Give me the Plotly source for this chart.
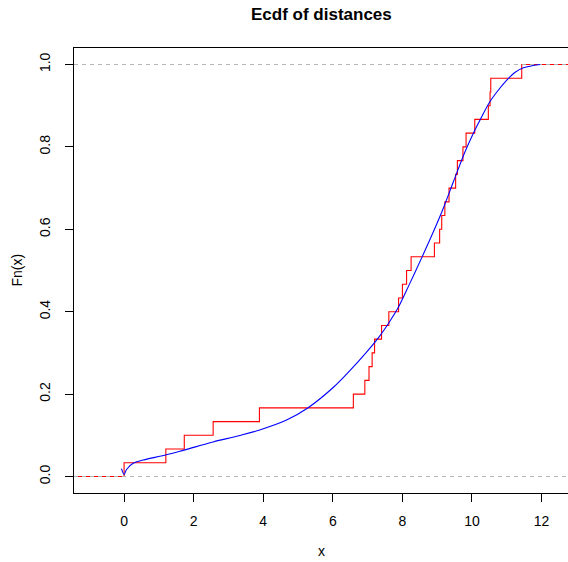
import plotly.graph_objects as go

# ECDF jump locations (30 observations)
jumps = [0.00, 1.20, 1.73, 2.56, 3.89, 6.59, 6.92, 7.04, 7.13, 7.20,
         7.40, 7.61, 7.89, 8.00, 8.12, 8.25, 8.92, 9.07, 9.13, 9.22,
         9.34, 9.53, 9.58, 9.74, 9.83, 10.08, 10.47, 10.52, 10.54, 11.43]

# fitted CDF curve
curve_x = [-0.075, 0.0, 0.07, 0.26, 0.55, 1.19, 1.72, 2.56, 3.30, 3.90,
           4.67, 5.29, 6.01, 6.49, 6.97, 7.33, 7.64, 7.88, 8.22, 8.55,
           8.89, 9.17, 9.46, 9.80, 10.04, 10.28, 10.51, 10.76, 11.00, 11.24,
           11.48, 11.96]
curve_y = [0.019, 0.005, 0.017, 0.032, 0.040, 0.052, 0.064, 0.084, 0.099, 0.113,
           0.137, 0.167, 0.216, 0.257, 0.302, 0.339, 0.377, 0.410, 0.470, 0.530,
           0.594, 0.650, 0.714, 0.788, 0.833, 0.873, 0.909, 0.938, 0.962, 0.981,
           0.992, 1.000]

x_ticks = [0, 2, 4, 6, 8, 10, 12]
y_ticks = [0.0, 0.2, 0.4, 0.6, 0.8, 1.0]
y_tick_labels = ["0.0", "0.2", "0.4", "0.6", "0.8", "1.0"]

XMIN, XMAX = -1.44, 12.76
YMIN, YMAX = -0.04, 1.04

n = len(jumps)
step_x = [XMIN] + jumps + [XMAX]
step_y = [0.0] + [(i + 1) / n for i in range(n)] + [1.0]

FONT = "Liberation Sans, Arial, Helvetica, sans-serif"

fig = go.Figure()
fig.add_trace(go.Scatter(x=step_x, y=step_y, mode="lines",
                         line=dict(color="#FF0000", width=1.1, shape="hv"),
                         hoverinfo="skip", showlegend=False))
for yv in [0.0, 1.0]:
    fig.add_trace(go.Scatter(x=[XMIN, XMAX], y=[yv, yv], mode="lines",
                             line=dict(color="#B3B3B3", width=1, dash="4px,4px"),
                             hoverinfo="skip", showlegend=False))
fig.add_trace(go.Scatter(x=curve_x, y=curve_y, mode="lines",
                         line=dict(color="#0000FF", width=1.1, shape="spline", smoothing=1.0),
                         hoverinfo="skip", showlegend=False))

fig.update_layout(
    width=568, height=562,
    margin=dict(l=74, r=0, t=48, b=69),
    paper_bgcolor="white", plot_bgcolor="white",
    font=dict(family=FONT, size=14, color="black"),
    showlegend=False,
    xaxis=dict(range=[XMIN, XMAX], tickvals=x_ticks, ticks="outside", ticklen=8,
               tickcolor="black", tickwidth=1, showline=True, linecolor="black",
               linewidth=1, mirror=True, showgrid=False, zeroline=False,
               ticklabelstandoff=7, tickfont=dict(size=14)),
    yaxis=dict(range=[YMIN, YMAX], tickvals=y_ticks, ticktext=y_tick_labels,
               ticks="outside", ticklen=8, tickcolor="black", tickwidth=1,
               showline=True, linecolor="black", linewidth=1, mirror=False,
               showgrid=False, zeroline=False, tickangle=-90,
               ticklabelstandoff=9, tickfont=dict(size=14)),
    annotations=[
        dict(text="<b>Ecdf of distances</b>", xref="paper", yref="paper",
             x=0.5, y=1, yshift=34, xanchor="center", yanchor="middle",
             showarrow=False, font=dict(size=17)),
        dict(text="x", xref="paper", yref="paper", x=0.5, y=0, yshift=-58,
             xanchor="center", yanchor="middle", showarrow=False, font=dict(size=14)),
        dict(text="Fn(x)", xref="paper", yref="paper", x=0, y=0.5, xshift=-58,
             xanchor="center", yanchor="middle", textangle=-90, showarrow=False,
             font=dict(size=14)),
    ],
)

fig.write_html("out.html")
